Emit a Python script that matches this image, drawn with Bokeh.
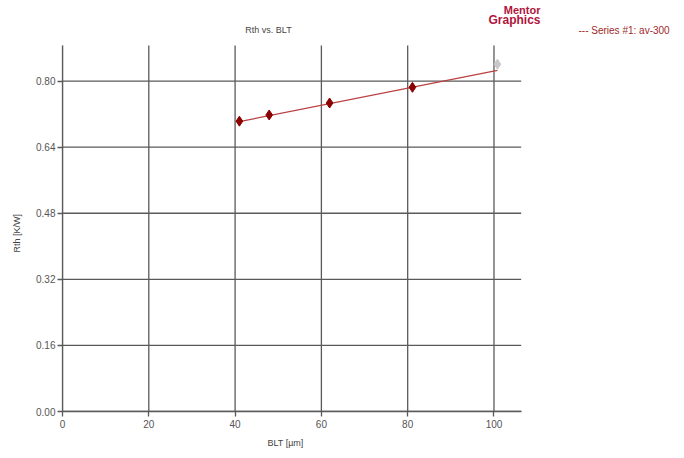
from bokeh.plotting import figure
from bokeh.models import FixedTicker, PrintfTickFormatter, Range1d, Label, Title
from bokeh.embed import file_html
from bokeh.resources import INLINE

# Data
blt = [41.0, 47.9, 61.9, 81.1]
rth = [0.703, 0.718, 0.747, 0.785]
blt_excluded = [100.8]
rth_excluded = [0.841]
fit_blt = [41.0, 100.8]
fit_rth = [0.702, 0.826]
x_ticks = [0, 20, 40, 60, 80, 100]
y_ticks = [0.0, 0.16, 0.32, 0.48, 0.64, 0.80]
x_axis_end = 106.3
y_axis_end = 0.886
series_label = "--- Series #1: av-300"

FONT = "Liberation Sans"
GRID = "#5a5a5a"
TXT = "#555555"
LOGO = "#b0143c"

# the frame covers the whole upper/right area so that the decorations
# (title, logo, series label) can be drawn inside it
p = figure(width=676, height=454, output_backend="svg", toolbar_location=None,
           x_range=Range1d(0, 142.3), y_range=Range1d(0, 0.9952),
           min_border_left=62, min_border_right=0, min_border_top=0,
           min_border_bottom=43)
p.title.visible = False
p.outline_line_color = None
p.background_fill_color = "white"
p.border_fill_color = "white"
p.xgrid.visible = False
p.ygrid.visible = False

p.xaxis.ticker = FixedTicker(ticks=x_ticks)
p.yaxis.ticker = FixedTicker(ticks=y_ticks)
p.yaxis.formatter = PrintfTickFormatter(format="%.2f")
p.xaxis.bounds = (0, x_axis_end)
p.yaxis.bounds = (0, y_axis_end)
for ax in (p.xaxis[0], p.yaxis[0]):
    ax.axis_line_color = GRID
    ax.axis_line_width = 1.3
    ax.major_tick_line_color = GRID
    ax.major_tick_line_width = 1.3
    ax.major_tick_in = 0
    ax.major_tick_out = 5
    ax.minor_tick_line_color = None
    ax.major_label_text_font = FONT
    ax.major_label_text_font_size = "10px"
    ax.major_label_text_color = TXT
p.xaxis.major_label_standoff = 3
p.yaxis.major_label_standoff = 2

# axis titles, placed beside the axes
p.add_layout(Title(text="BLT [µm]", align="left", offset=205, standoff=11,
                   vertical_align="bottom", text_font=FONT,
                   text_font_size="9px", text_font_style="normal",
                   text_color="#444444"), "below")
p.add_layout(Title(text="Rth [K/W]", align="left", offset=159, standoff=20,
                   vertical_align="top", text_font=FONT,
                   text_font_size="9px", text_font_style="normal",
                   text_color="#444444"), "left")

# grid lines at the tick positions, limited to the axis extent
p.segment(x0=x_ticks, y0=[0] * len(x_ticks), x1=x_ticks,
          y1=[y_axis_end] * len(x_ticks), line_color=GRID, line_width=1.3)
p.segment(x0=[0] * len(y_ticks), y0=y_ticks, x1=[x_axis_end] * len(y_ticks),
          y1=y_ticks, line_color=GRID, line_width=1.3)

fit_r = p.line(fit_blt, fit_rth, line_color="#bb4040", line_width=1.3)
p.scatter(blt, rth, marker="diamond", size=10, fill_color="#8b0000",
          line_color="#8b0000")
p.scatter(blt_excluded, rth_excluded, marker="diamond", size=10,
          fill_color="#c8c8c8", line_color="#c8c8c8")

# title, logo and series label (screen px from the frame's bottom-left)
p.add_layout(Label(x=206, y=382, x_units="screen", y_units="screen",
                   text="Rth vs. BLT", text_font=FONT, text_font_size="9px",
                   text_color="#444444", text_align="center",
                   text_baseline="middle"))
p.add_layout(Label(x=516, y=381, x_units="screen", y_units="screen",
                   text=series_label, text_font=FONT,
                   text_font_size="10px", text_color="#a0282a",
                   text_align="left", text_baseline="middle"))
p.add_layout(Label(x=478, y=402, x_units="screen", y_units="screen",
                   text="Mentor", text_font=FONT, text_font_size="11px",
                   text_font_style="bold", text_color=LOGO,
                   text_align="right", text_baseline="middle"))
p.add_layout(Label(x=478, y=392, x_units="screen", y_units="screen",
                   text="Graphics", text_font=FONT, text_font_size="12px",
                   text_font_style="bold", text_color=LOGO,
                   text_align="right", text_baseline="middle"))

open("out.html", "w").write(file_html(p, INLINE))
